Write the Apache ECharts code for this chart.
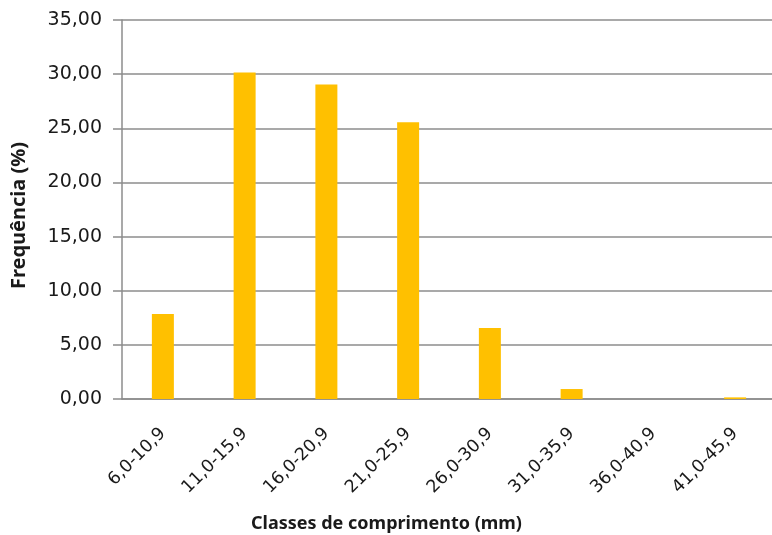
<!DOCTYPE html>
<html>
<head>
<meta charset="utf-8">
<script src="https://cdn.jsdelivr.net/npm/echarts@6/dist/echarts.min.js"></script>
<style>
  html, body { margin: 0; padding: 0; background: #fff; }
  #chart { width: 772px; height: 535px; }
</style>
</head>
<body>
<div id="chart"></div>
<script>
// Length classes (mm) and their frequency (%)
const classes = ['6,0-10,9', '11,0-15,9', '16,0-20,9', '21,0-25,9', '26,0-30,9', '31,0-35,9', '36,0-40,9', '41,0-45,9'];
const frequencies = [7.85, 30.15, 29.05, 25.55, 6.55, 0.92, 0, 0.15];
const yTicks = { min: 0, max: 35, step: 5 };

const TICK_FONT = '"DejaVu Sans", "Noto Sans", sans-serif';
const TITLE_FONT = '"Noto Sans", "DejaVu Sans", sans-serif';
const GRID_COLOR = '#8c8c8c';
const TEXT_COLOR = '#1a1a1a';

const chart = echarts.init(document.getElementById('chart'), null, { renderer: 'canvas' });

chart.setOption({
  backgroundColor: '#ffffff',
  animation: false,
  grid: { left: 122, right: -4, top: 20, bottom: 136, containLabel: false, outerBoundsMode: 'none' },
  xAxis: {
    type: 'category',
    data: classes,
    axisLine: { show: true, lineStyle: { color: GRID_COLOR, width: 1.5 } },
    axisTick: { show: false },
    axisLabel: {
      rotate: 45,
      margin: 32,
      interval: 0,
      color: TEXT_COLOR,
      fontFamily: TICK_FONT,
      fontSize: 17.5
    }
  },
  yAxis: {
    type: 'value',
    min: yTicks.min,
    max: yTicks.max,
    interval: yTicks.step,
    name: 'Frequência (%)',
    nameLocation: 'middle',
    nameGap: 93,
    nameTextStyle: { color: TEXT_COLOR, fontFamily: TITLE_FONT, fontSize: 20, fontWeight: 'bold', padding: [0, 0, 0, -12] },
    axisLine: { show: true, lineStyle: { color: GRID_COLOR, width: 1.5 } },
    axisTick: { show: true, inside: false, length: 9, lineStyle: { color: GRID_COLOR, width: 1.5 } },
    splitLine: { show: true, lineStyle: { color: GRID_COLOR, width: 1.5 } },
    axisLabel: {
      margin: 20,
      color: TEXT_COLOR,
      fontFamily: TICK_FONT,
      fontSize: 19,
      formatter: v => v.toFixed(2).replace('.', ',')
    }
  },
  series: [{
    type: 'bar',
    data: frequencies,
    barWidth: 22,
    itemStyle: { color: '#FFC000' }
  }],
  graphic: [{
    type: 'text',
    left: 251,
    top: 515,
    style: {
      text: 'Classes de comprimento (mm)',
      fill: TEXT_COLOR,
      font: 'bold 18px ' + TITLE_FONT
    }
  }]
});
</script>
</body>
</html>
